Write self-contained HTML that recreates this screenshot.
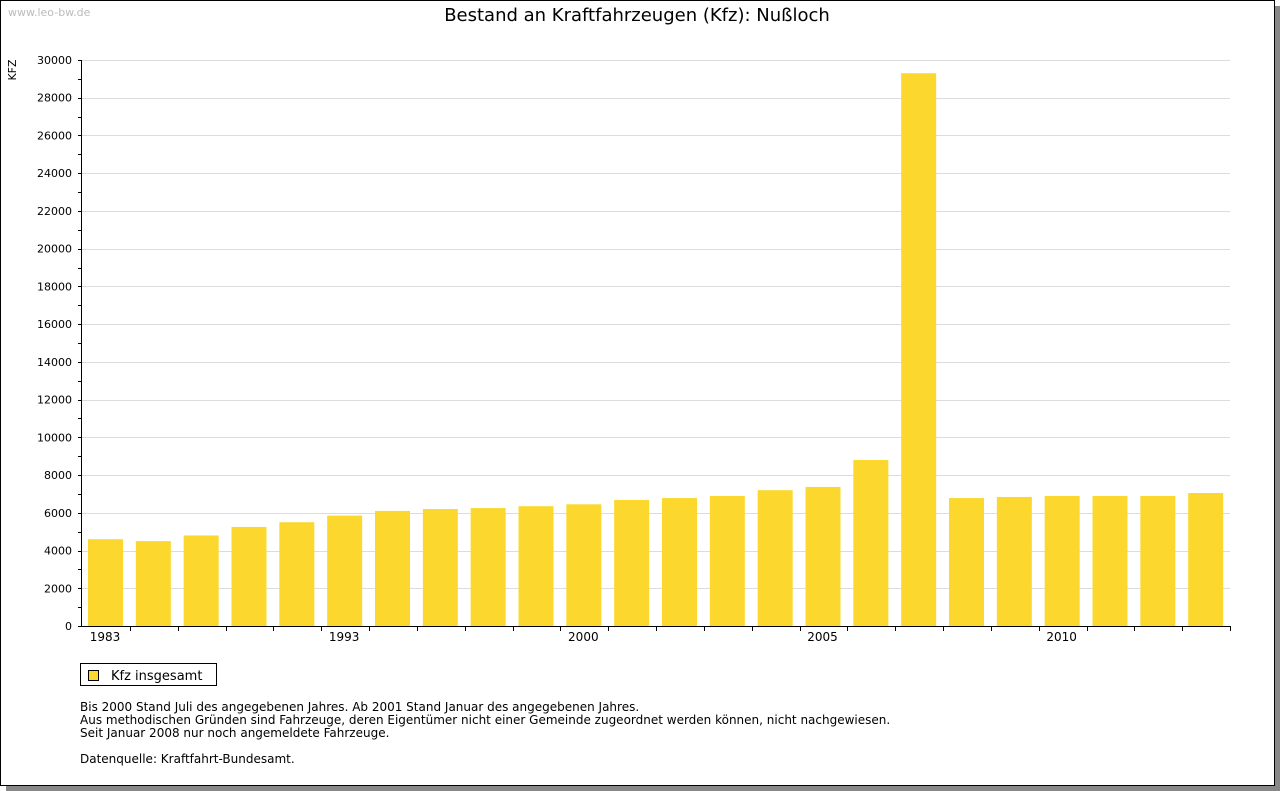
<!DOCTYPE html>
<html><head><meta charset="utf-8">
<style>
body{margin:0;background:#fff;font-family:"DejaVu Sans","Liberation Sans",sans-serif;}
#wrap{position:relative;width:1280px;height:791px;overflow:hidden;background:#fff}
#frame{position:absolute;left:0;top:0;width:1273px;height:784px;border:1px solid #000;background:#fff;box-shadow:6px 6px 0 #888}
</style></head><body>
<div id="wrap">
<div id="frame"></div>
<svg id="chart" width="1280" height="791" style="position:absolute;left:0;top:0" font-family="DejaVu Sans, Liberation Sans, sans-serif">
<text x="8" y="16" font-size="11" fill="#bbb">www.leo-bw.de</text>
<text x="637" y="21" font-size="18" text-anchor="middle" fill="#000">Bestand an Kraftfahrzeugen (Kfz): Nußloch</text>
<text transform="translate(16,70) rotate(-90)" font-size="11" text-anchor="middle">KFZ</text>
<g id="grid"></g><g id="bars"></g><g id="axes"></g>
<g>
<rect x="80.5" y="663.5" width="136" height="22" fill="#fff" stroke="#000"/>
<rect x="88.5" y="670.5" width="10" height="10" fill="#fcd82e" stroke="#000"/>
<text x="111" y="680" font-size="13">Kfz insgesamt</text>
</g>
<g font-size="12">
<text x="80" y="711">Bis 2000 Stand Juli des angegebenen Jahres. Ab 2001 Stand Januar des angegebenen Jahres.</text>
<text x="80" y="724">Aus methodischen Gründen sind Fahrzeuge, deren Eigentümer nicht einer Gemeinde zugeordnet werden können, nicht nachgewiesen.</text>
<text x="80" y="737">Seit Januar 2008 nur noch angemeldete Fahrzeuge.</text>
<text x="80" y="763">Datenquelle: Kraftfahrt-Bundesamt.</text>
</g>
</svg>
</div>
<script>
const categories=["1983","1985","1987","1989","1991","1993","1995","1997","1998","1999","2000","2001","2002","2003","2004","2005","2006","2007","2008","2009","2010","2011","2012","2013"];
const shownLabels=["1983","1993","2000","2005","2010"];
const values=[4600,4500,4800,5250,5500,5850,6100,6200,6250,6350,6450,6680,6780,6890,7200,7370,8800,29300,6780,6840,6890,6890,6890,7050];
const yTicks=[0,2000,4000,6000,8000,10000,12000,14000,16000,18000,20000,22000,24000,26000,28000,30000];
const NS="http://www.w3.org/2000/svg";
const X0=82,X1=1230,Y0=626,Y1=60,YMAX=30000;
const band=(X1-X0)/categories.length;
const y=v=>Y0-(v/YMAX)*(Y0-Y1);
const xb=i=>X0+i*band;
function mk(t,a,p){const e=document.createElementNS(NS,t);for(const k in a)e.setAttribute(k,a[k]);p.appendChild(e);return e;}
const grid=document.getElementById('grid'),bars=document.getElementById('bars'),axes=document.getElementById('axes');
yTicks.forEach(v=>{
 if(v>0){const l=mk('line',{x1:X0,x2:X1,y1:Math.round(y(v))+.5,y2:Math.round(y(v))+.5,stroke:'#dcdcdc'},grid);
 
 }
 const t=mk('text',{x:72,y:y(v)+4,'font-size':11,'text-anchor':'end'},axes);t.textContent=v;
 
 
});
for(let v=0;v<=YMAX;v+=1000){const yy=Math.round(y(v))+.5;mk('line',{x1:X0-4,x2:X0,y1:yy,y2:yy,stroke:'#000'},axes);}
values.forEach((v,i)=>{
 const r=mk('rect',{x:xb(i)+6,y:y(v),width:35,height:Y0-y(v),fill:'#fcd82e'},bars);
 
 
 mk('line',{x1:Math.round(xb(i+1))+.5,x2:Math.round(xb(i+1))+.5,y1:Y0,y2:Y0+5,stroke:'#000'},axes);
 if(shownLabels.includes(categories[i])){const t=mk('text',{x:xb(i)+23,y:Y0+15,'font-size':12,'text-anchor':'middle'},axes);t.textContent=categories[i];
 
 }
});
const ya=mk('line',{x1:X0-.5,x2:X0-.5,y1:Y1,y2:Y0,stroke:'#000'},axes);


const xa=mk('line',{x1:X0-1,x2:X1,y1:Y0+.5,y2:Y0+.5,stroke:'#000'},axes);


</script>
</body></html>
